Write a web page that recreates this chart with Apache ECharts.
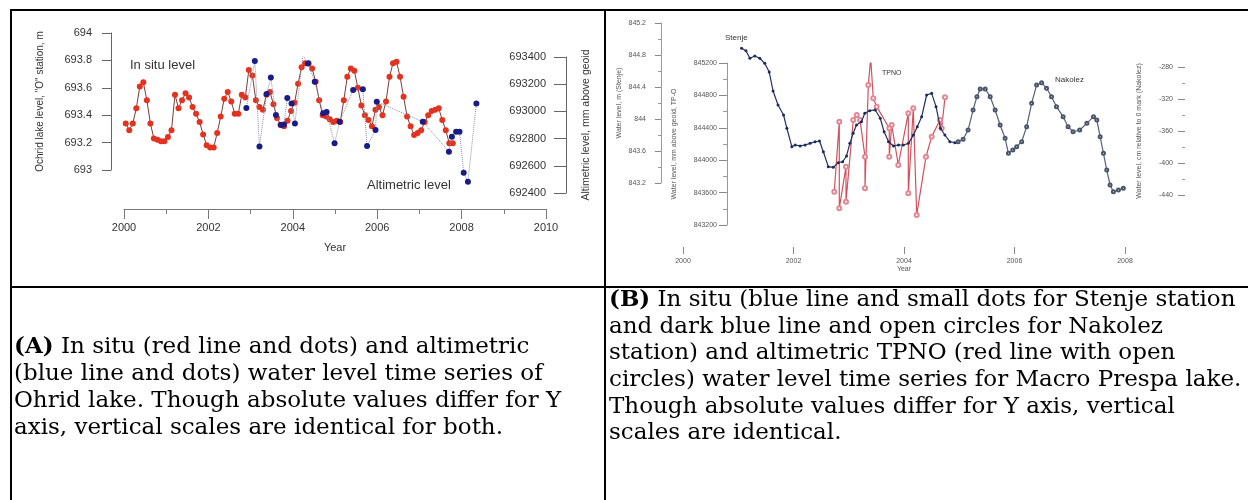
<!DOCTYPE html>
<html><head><meta charset="utf-8">
<script src="https://cdn.jsdelivr.net/npm/echarts@6/dist/echarts.min.js"></script>
<style>html,body{margin:0;padding:0;background:#fff}#c{width:1248px;height:500px}</style>
</head><body><div id="c"></div><script>
// ---------- Panel A: Ohrid lake ----------
const inSituStartYear = 2000; // monthly values from January 2000
const inSituLevel = [
 693.34,693.29,693.34,693.45,693.61,693.64,693.51,693.34,693.23,693.22,693.21,693.21,
 693.24,693.29,693.55,693.45,693.51,693.56,693.53,693.46,693.41,693.35,693.26,693.18,
 693.165,693.165,693.27,693.39,693.52,693.57,693.50,693.41,693.41,693.55,693.53,693.73,
 693.69,693.51,693.46,693.44,693.55,693.57,693.48,693.38,693.33,693.32,693.36,693.43,
 693.49,693.63,693.75,693.78,693.78,693.74,693.645,693.51,693.40,693.39,693.37,693.35,
 693.36,693.35,693.51,693.68,693.74,693.725,693.60,693.47,693.40,693.365,693.32,693.44,
 693.46,693.40,693.50,693.68,693.78,693.79,693.68,693.535,693.39,693.32,693.255,693.27,
 693.29,693.35,693.40,693.43,693.44,693.45,693.365,693.29,693.195,693.195
];
const altimYears = [2002.90,2003.10,2003.21,2003.38,2003.48,2003.60,2003.72,2003.79,2003.87,2003.97,
 2004.05,2004.24,2004.36,2004.52,2004.72,2004.80,2004.99,2005.11,2005.43,2005.66,2005.76,2005.96,2005.99,
 2007.08,2007.70,2007.77,2007.87,2007.95,2008.05,2008.15,2008.35];
const altimLevel = [693025,693370,692742,693128,693249,692973,692900,692903,693098,693059,
 692911,693414,693353,693218,692986,692995,692765,692924,693157,693162,692745,692863,693071,
 692924,692704,692814,692851,692851,692549,692483,693059];
const yearTicksA = [2000, 2010, 2];
const leftTicksA = [693, 694, 0.2];
const rightTicksA = [692400, 693400, 200];

// ---------- Panel B: Macro Prespa lake ----------
const stenjeYears = [2001.06,2001.14,2001.21,2001.30,2001.39,2001.48,2001.56,2001.63,2001.72,2001.82,2001.88,2001.97,
 2002.03,2002.12,2002.21,2002.30,2002.39,2002.47,2002.54,2002.63,2002.72,2002.81,2002.89,2002.96,
 2003.02,2003.08,2003.14,2003.23,2003.29,2003.38,2003.48,2003.57,2003.64,2003.72,2003.81,2003.90,
 2003.99,2004.08,2004.17,2004.24,2004.32,2004.41,2004.50,2004.58,2004.66,2004.74,2004.83,2004.92];
const stenjeLevel = [844.884,844.854,844.759,844.788,844.759,844.696,844.588,844.35,844.175,844.05,843.884,843.654,
 843.675,843.663,843.675,843.696,843.716,843.725,843.591,843.404,843.396,843.454,843.466,843.538,
 843.696,843.821,843.925,843.966,844.071,844.104,844.113,844.009,843.841,843.716,843.663,843.675,
 843.675,843.696,843.80,843.904,844.029,844.30,844.321,844.154,843.884,843.80,843.716,843.704];
const nakolezYears = [2004.98,2005.07,2005.16,2005.25,2005.32,2005.38,2005.47,2005.56,2005.65,2005.74,2005.83,2005.89,
 2005.97,2006.04,2006.13,2006.22,2006.31,2006.40,2006.49,2006.58,2006.67,2006.76,2006.88,2006.97,
 2007.06,2007.18,2007.31,2007.43,2007.49,2007.55,2007.61,2007.67,2007.73,2007.79,2007.88,2007.97];
const nakolezLevel = [-373.4,-370.4,-358.8,-333.8,-317.1,-307.5,-307.5,-317.1,-333.8,-352.5,-369.1,-387.9,
 -383.8,-379.6,-373.4,-354.6,-325.4,-302.5,-299.6,-306.6,-317.1,-329.6,-342.1,-354.6,
 -360.9,-358.8,-350.4,-342.1,-346.3,-367.1,-387.9,-408.8,-427.5,-435.9,-433.8,-431.6];
const tpnoYears = [2002.738,2002.829,2002.829,2002.950,2002.950,2003.082,2003.144,2003.204,2003.294,2003.294,
 2003.354,2003.397,2003.444,2003.506,2003.734,2003.734,2003.777,2003.897,2004.078,2004.078,2004.168,2004.230,
 2004.398,2004.501,2004.652,2004.682,2004.742];
const tpnoLevel = [843611,844476,843406,843920,843488,844497,844559,844497,844043,843653,
 844929,845259,844765,844661,844394,844043,844435,843941,844580,843592,844641,843324,
 844043,844291,844497,844394,844777];
const yearTicksB = [2000, 2008, 2];
const stenjeTicks = [843.2, 845.2, 0.4];
const tpoTicks = [843200, 845200, 400];
const nakolezTicks = [-440, -280, 40];

const captionA = [
 ['(A)', ' In situ (red line and dots) and altimetric'],
 ['', '(blue line and dots) water level time series of'],
 ['', 'Ohrid lake. Though absolute values differ for Y'],
 ['', 'axis, vertical scales are identical for both.']
];
const captionB = [
 ['(B)', ' In situ (blue line and small dots for Stenje station'],
 ['', 'and dark blue line and open circles for Nakolez'],
 ['', 'station) and altimetric TPNO (red line with open'],
 ['', 'circles) water level time series for Macro Prespa lake.'],
 ['', 'Though absolute values differ for Y axis, vertical'],
 ['', 'scales are identical.']
];

// ---------- build ----------
const inSituData = inSituLevel.map((v, i) => [inSituStartYear + (i + 0.5) / 12, v]);
const zip = (a, b) => a.map((x, i) => [x, b[i]]);
const SANS = 'Liberation Sans, Arial, sans-serif';
const plain = (v) => String(Math.round(v * 10) / 10);
const hidden = (g) => ({gridIndex: g, type: 'value', show: false, min: 0, max: 1});
const hx = (g, r) => ({gridIndex: g, type: 'value', show: false, min: r[0], max: r[1]});

const grids = [
 {left:124, top:33, width:422, height:137},   // 0 in situ
 {left:124, top:57, width:422, height:136},   // 1 altimetric
 {left:124, top:150, width:422, height:59},   // 2 x axis A
 {left:683, top:23, width:442, height:160},   // 3 Stenje
 {left:683, top:63, width:442, height:162},   // 4 TP-O
 {left:683, top:67, width:442, height:128},   // 5 Nakolez
 {left:683, top:200, width:442, height:47}    // 6 x axis B
];

const axisA = (c) => ({show:true, lineStyle:{color:c, width:1}});
const xAxes = [
 hx(0, yearTicksA), hx(1, yearTicksA),
 {gridIndex:2, type:'value', min:yearTicksA[0], max:yearTicksA[1], interval:yearTicksA[2],
  axisLine:axisA('#777'), axisTick:{length:10, lineStyle:{color:'#777'}},
  minorTick:{show:true, splitNumber:2, length:5, lineStyle:{color:'#777'}},
  splitLine:{show:false},
  axisLabel:{fontSize:11, color:'#333', margin:13, fontFamily:SANS, formatter:plain},
  name:'Year', nameLocation:'middle', nameGap:33, nameTextStyle:{fontSize:11, color:'#333', fontFamily:SANS}},
 hx(3, yearTicksB), hx(4, yearTicksB), hx(5, yearTicksB),
 {gridIndex:6, type:'value', min:yearTicksB[0], max:yearTicksB[1], interval:yearTicksB[2],
  axisLine:{show:false}, axisTick:{show:true, length:7, lineStyle:{color:'#888'}},
  splitLine:{show:false},
  axisLabel:{fontSize:7, color:'#555', margin:11, fontFamily:SANS, formatter:plain},
  name:'Year', nameLocation:'middle', nameGap:17, nameTextStyle:{fontSize:7, color:'#555', fontFamily:SANS}}
];

const yAxes = [
 {gridIndex:0, type:'value', min:leftTicksA[0], max:leftTicksA[1], interval:leftTicksA[2], position:'left', offset:13,
  axisLine:axisA('#666'), axisTick:{show:true, length:9, lineStyle:{color:'#666'}}, splitLine:{show:false},
  axisLabel:{fontSize:11, color:'#333', margin:19, fontFamily:SANS, formatter:plain},
  name:'Ochrid lake level, "O" station, m', nameLocation:'middle', nameGap:66, nameRotate:90,
  nameTextStyle:{fontSize:10, color:'#333', fontFamily:SANS}},
 {gridIndex:1, type:'value', min:rightTicksA[0], max:rightTicksA[1], interval:rightTicksA[2], position:'right', offset:20,
  axisLine:axisA('#666'), axisTick:{show:true, inside:true, length:12, lineStyle:{color:'#666'}}, splitLine:{show:false},
  axisLabel:{inside:true, fontSize:11, color:'#333', margin:20, fontFamily:SANS, formatter:plain},
  name:'Altimetric level, mm above geoid', nameLocation:'middle', nameGap:15, nameRotate:90,
  nameTextStyle:{fontSize:10.5, color:'#333', fontFamily:SANS}},
 hidden(2),
 {gridIndex:3, type:'value', min:stenjeTicks[0], max:stenjeTicks[1], interval:stenjeTicks[2], position:'left', offset:22,
  axisLine:axisA('#999'), axisTick:{show:true, length:6, lineStyle:{color:'#888'}},
  minorTick:{show:true, splitNumber:2, length:3, lineStyle:{color:'#999'}}, splitLine:{show:false},
  axisLabel:{fontSize:7, color:'#555', margin:15, fontFamily:SANS, formatter:plain},
  name:'Water level, m (Stenje)', nameLocation:'middle', nameGap:38, nameRotate:90,
  nameTextStyle:{fontSize:7, color:'#555', fontFamily:SANS}},
 {gridIndex:4, type:'value', min:tpoTicks[0], max:tpoTicks[1], interval:tpoTicks[2], position:'left', offset:-44,
  axisLine:axisA('#999'), axisTick:{show:true, length:8, lineStyle:{color:'#888'}},
  minorTick:{show:true, splitNumber:2, length:4, lineStyle:{color:'#999'}}, splitLine:{show:false},
  axisLabel:{fontSize:7, color:'#555', margin:10, fontFamily:SANS, formatter:plain},
  name:'Water level, mm above geoid, TP-O', nameLocation:'middle', nameGap:49, nameRotate:90,
  nameTextStyle:{fontSize:7, color:'#555', fontFamily:SANS}},
 {gridIndex:5, type:'value', min:nakolezTicks[0], max:nakolezTicks[1], interval:nakolezTicks[2], position:'left', offset:-502,
  axisLine:{show:false}, axisTick:{show:true, length:7, lineStyle:{color:'#888'}},
  minorTick:{show:true, splitNumber:2, length:3, lineStyle:{color:'#999'}}, splitLine:{show:false},
  axisLabel:{fontSize:7, color:'#555', margin:12, fontFamily:SANS, formatter:plain},
  name:'Water level, cm relative to 0 mark (Nakolez)', nameLocation:'middle', nameGap:42, nameRotate:90,
  nameTextStyle:{fontSize:7, color:'#555', fontFamily:SANS}},
 hidden(6)
];

const series = [
 {name:'In situ', type:'line', xAxisIndex:0, yAxisIndex:0, data:inSituData, symbol:'circle', symbolSize:6,
  itemStyle:{color:'#e3331f'}, lineStyle:{color:'#7c3b35', width:1}, z:2, silent:true},
 {name:'Altimetric', type:'line', xAxisIndex:1, yAxisIndex:1, data:zip(altimYears, altimLevel), symbol:'circle', symbolSize:6,
  itemStyle:{color:'#1b1b86'}, lineStyle:{color:'#8890a8', width:1, type:'dotted'}, z:3, silent:true},
 {name:'Stenje', type:'line', xAxisIndex:3, yAxisIndex:3, data:zip(stenjeYears, stenjeLevel), symbol:'circle', symbolSize:3,
  itemStyle:{color:'#1e2a5a'}, lineStyle:{color:'#25305e', width:1.2}, z:3, silent:true},
 {name:'Nakolez', type:'line', xAxisIndex:5, yAxisIndex:5, data:zip(nakolezYears, nakolezLevel), symbol:'emptyCircle', symbolSize:3,
  itemStyle:{color:'#4a5468'}, lineStyle:{color:'#56607a', width:1.2}, z:3, silent:true},
 {name:'TPNO', type:'line', xAxisIndex:4, yAxisIndex:4, data:zip(tpnoYears, tpnoLevel), symbol:'emptyCircle', symbolSize:4,
  itemStyle:{color:'#e08894'}, lineStyle:{color:'#d4505e', width:1.2}, z:2, silent:true}
];

const SERIF = 'DejaVu Serif, serif';
const CAP = 23;
const capText = (lines, x, y0, dy) => lines.map((l, i) => ({
  type:'text', x:x, y:y0 + i*dy, silent:true,
  style:{text:(l[0] ? '{b|' + l[0] + '}' : '') + '{n|' + l[1] + '}', verticalAlign:'middle', fill:'#000',
   rich:{b:{fontFamily:SERIF, fontWeight:'bold', fontSize:CAP, fill:'#000'}, n:{fontFamily:SERIF, fontSize:CAP, fill:'#000'}}}
}));
const label = (t, x, y, fs) => ({type:'text', x:x, y:y, silent:true,
  style:{text:t, fontSize:fs, fontFamily:SANS, fill:'#333', verticalAlign:'middle'}});
const hline = (x1, x2, y) => ({type:'line', silent:true, shape:{x1:x1, y1:y, x2:x2, y2:y}, style:{stroke:'#000', lineWidth:2}});
const vline = (x, y1, y2) => ({type:'line', silent:true, shape:{x1:x, y1:y1, x2:x, y2:y2}, style:{stroke:'#000', lineWidth:2}});

const graphic = [
 hline(10, 1248, 10), hline(10, 1248, 287), vline(11, 9, 500), vline(605, 9, 500),
 label('In situ level', 130, 65, 13), label('Altimetric level', 367, 185, 13),
 label('Stenje', 725, 38, 8), label('TPNO', 882, 73, 7), label('Nakolez', 1055, 80, 8)
].concat(capText(captionA, 14, 347, 27)).concat(capText(captionB, 609, 300, 26.7));

const chart = echarts.init(document.getElementById('c'));
chart.setOption({animation:false, grid:grids, xAxis:xAxes, yAxis:yAxes, series:series, graphic:graphic});
</script></body></html>
